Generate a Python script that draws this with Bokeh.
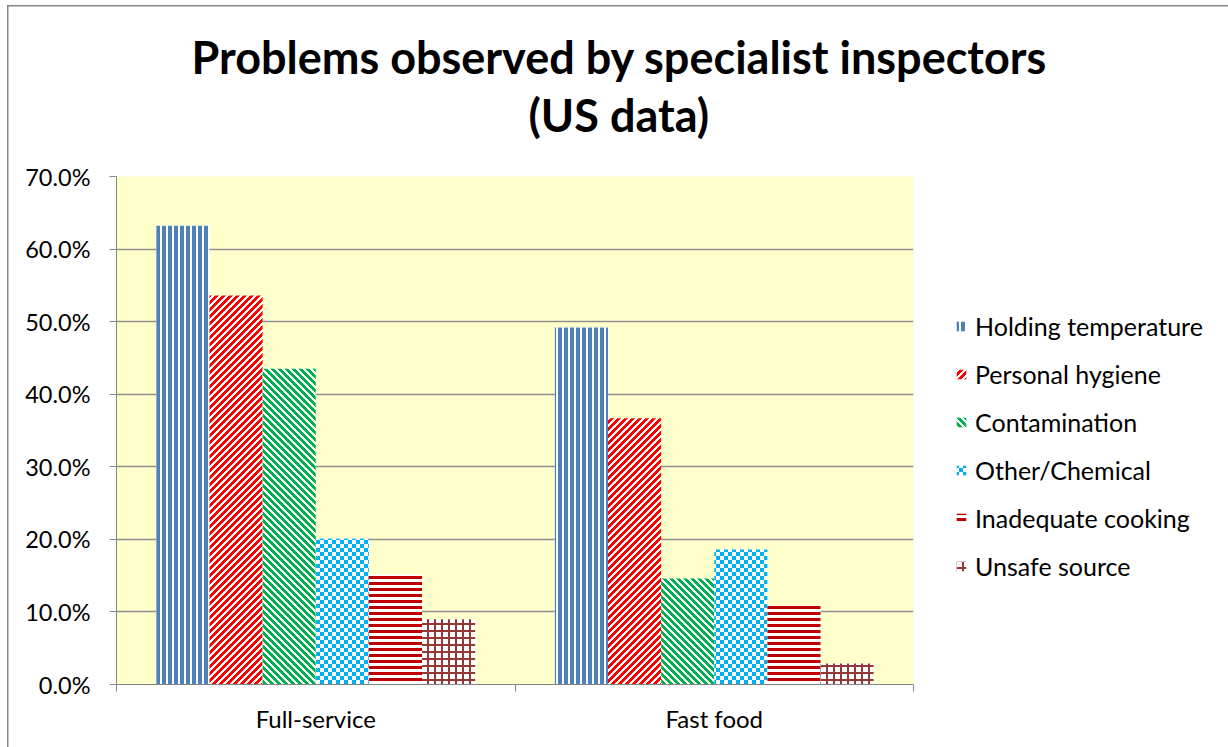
from bokeh.plotting import figure
from bokeh.models import (ColumnDataSource, FixedTicker, NumeralTickFormatter, Legend,
                          LegendItem, Title, CanvasTexture)
from bokeh.core.properties import value
from bokeh.transform import dodge
from bokeh.embed import file_html
from bokeh.resources import INLINE

# ---------------- data ----------------
categories = ["Full-service", "Fast food"]
series = ["Holding temperature", "Personal hygiene", "Contamination",
          "Other/Chemical", "Inadequate cooking", "Unsafe source"]
holding_temperature = [0.632, 0.492]
personal_hygiene = [0.536, 0.367]
contamination = [0.435, 0.146]
other_chemical = [0.201, 0.186]
inadequate_cooking = [0.152, 0.109]
unsafe_source = [0.090, 0.029]
y_ticks = [0.0, 0.1, 0.2, 0.3, 0.4, 0.5, 0.6, 0.7]
title_line1 = "Problems observed by specialist inspectors"
title_line2 = "(US data)"

values = [holding_temperature, personal_hygiene, contamination,
          other_chemical, inadequate_cooking, unsafe_source]

# ---------------- pixel-pattern textures ----------------
def sized(n, body):
    return "ctx.canvas.width=%d; ctx.canvas.height=%d; %s" % (n, n, body)

tex_code = {
    "vert": sized(6, "ctx.fillStyle='#4F81BD'; ctx.fillRect(0,0,4,6);"),
    "updiag": sized(7, "ctx.fillStyle='#FF0000'; for (let y=0;y<7;y++){ const x0=(6-y+7)%7;"
                       " for (let k=0;k<4;k++){ ctx.fillRect((x0+k)%7, y, 1, 1); } }"),
    "downdiag": sized(7, "ctx.fillStyle='#00B050'; for (let y=0;y<7;y++){ const x0=y%7;"
                         " for (let k=0;k<4;k++){ ctx.fillRect((x0+k)%7, y, 1, 1); } }"),
    "checker": sized(8, "ctx.fillStyle='#00B0F0'; ctx.fillRect(0,0,4,4); ctx.fillRect(4,4,4,4);"),
    "horiz": sized(6, "ctx.fillStyle='#C00000'; ctx.fillRect(0,0,6,3);"),
    "grid": sized(7, "ctx.fillStyle='#953735'; ctx.fillRect(0,0,7,2); ctx.fillRect(0,0,2,7);"),
}
tex_scale = {"vert": 6, "updiag": 7, "downdiag": 7, "checker": 8, "horiz": 6, "grid": 7}
pattern_names = ["vert", "updiag", "downdiag", "checker", "horiz", "grid"]

cat_x = [i + 0.5 for i in range(len(categories))]
data = {"x": cat_x}
keys = []
for i, v in enumerate(values):
    k = "s%d" % i
    data[k] = v
    keys.append(k)
src = ColumnDataSource(data)

FONT = "Lato"
p = figure(frame_width=797, frame_height=508, output_backend="svg", toolbar_location=None,
           x_range=(0, 2), y_range=(0, 0.7), title=None,
           min_border_left=116, min_border_right=315, min_border_top=176, min_border_bottom=63,
           background_fill_color="#FFFFCC", border_fill_color="white", border_fill_alpha=0)
p.styles = {"box-shadow": ("inset 7px 0 0 0 white, inset 0 5px 0 0 white, "
                           "inset 8.5px 0 0 0 #868686, inset 0 6.5px 0 0 #868686, "
                           "inset -1.5px 0 0 0 #868686")}
p.outline_line_color = None

bw = 1 / 7.5
items = []
for i, (k, name) in enumerate(zip(keys, series)):
    pn = pattern_names[i]
    tex = CanvasTexture(code=tex_code[pn], repetition="repeat")
    r = p.vbar(x=dodge("x", (i - 2.5) * bw, range=p.x_range), top=k, width=bw, source=src,
               line_color=None, fill_color="white", hatch_pattern=value(pn),
               hatch_extra={pn: tex}, hatch_scale=tex_scale[pn])
    items.append(LegendItem(label=name, renderers=[r]))

# axes
p.yaxis.ticker = FixedTicker(ticks=y_ticks)
p.yaxis.formatter = NumeralTickFormatter(format="0.0%")
p.yaxis.major_tick_out = 7
p.yaxis.major_tick_in = 0
p.yaxis.minor_tick_line_color = None
p.yaxis.axis_line_color = "#868686"
p.yaxis.major_tick_line_color = "#868686"
p.yaxis.major_label_standoff = 19
p.yaxis.major_label_text_font = FONT
p.yaxis.major_label_text_font_size = "23.5px"
p.yaxis.major_label_text_color = "black"

p.xaxis.ticker = FixedTicker(ticks=cat_x, minor_ticks=[0, 1, 2])
p.xaxis.major_label_overrides = {x: c for x, c in zip(cat_x, categories)}
p.xaxis.major_tick_line_color = None
p.xaxis.minor_tick_line_color = "#868686"
p.xaxis.minor_tick_out = 7
p.xaxis.minor_tick_in = 0
p.xaxis.axis_line_color = "#868686"
p.xaxis.major_label_standoff = 12
p.xaxis.major_label_text_font = FONT
p.xaxis.major_label_text_font_size = "24px"
p.xaxis.major_label_text_color = "black"

p.xgrid.grid_line_color = None
p.ygrid.grid_line_color = "#8F8F8F"
p.ygrid.grid_line_width = 1.5

legend = Legend(items=items, location=(42, 103), border_line_color=None, background_fill_alpha=0,
                label_text_font=FONT, label_text_font_size="25px", label_text_color="black",
                glyph_width=12, glyph_height=12,
                label_standoff=8, spacing=18, padding=0, margin=0)
p.add_layout(legend, "right")

t2 = Title(text=title_line2, align="left", offset=412, standoff=70, text_font=FONT,
           text_font_size="45px", text_font_style="bold", text_color="black")
t1 = Title(text=title_line1, align="left", offset=75, standoff=-66, text_font=FONT,
           text_font_size="45px", text_font_style="bold", text_color="black")
p.add_layout(t2, "above")
p.add_layout(t1, "above")

open("out.html", "w").write(file_html(p, INLINE))
